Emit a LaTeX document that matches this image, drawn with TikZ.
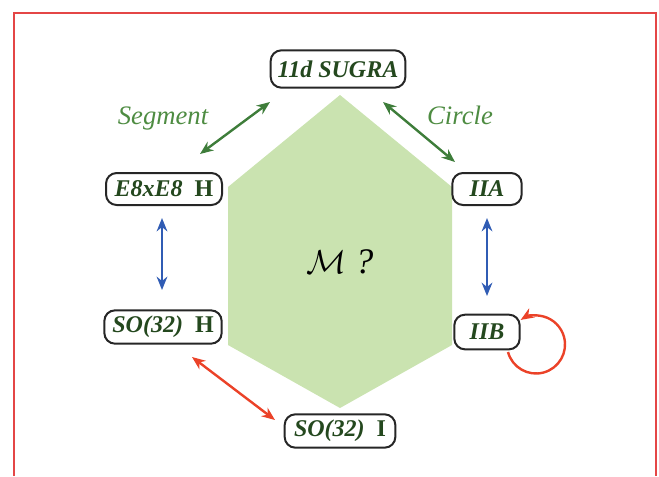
\documentclass[tikz,border=0pt]{standalone}
\usepackage{fontspec}
\setmainfont{Liberation Serif}
\usetikzlibrary{arrows.meta}
\definecolor{bordred}{RGB}{228,70,70}
\definecolor{hexgreen}{RGB}{202,227,176}
\definecolor{txtgreen}{RGB}{36,72,30}
\definecolor{arrgreen}{RGB}{62,125,58}
\definecolor{lblgreen}{RGB}{78,140,66}
\definecolor{arrblue}{RGB}{48,92,180}
\definecolor{arrred}{RGB}{235,66,40}
\tikzset{
  theory/.style={draw=black!85, line width=1.5pt, rounded corners=8pt, fill=white,
    font=\fontsize{18}{20}\selectfont\bfseries\itshape, text=txtgreen,
    inner xsep=4pt, inner ysep=3pt},
  tip/.style={Stealth[length=10pt,width=8pt]},
  conn/.style={line width=1.8pt, {Stealth[length=10pt,width=8pt]}-{Stealth[length=10pt,width=8pt]}},
  lbl/.style={font=\fontsize{20}{22}\selectfont\itshape, text=lblgreen}
}
\begin{document}
\begin{tikzpicture}[x=0.75pt,y=-0.75pt]
\useasboundingbox (0,0) rectangle (659,476);
\draw[bordred, line width=1pt] (14,476) -- (14,13) -- (656,13) -- (656,476);
% hexagon
\fill[hexgreen] (340,95) -- (452,187) -- (452,345) -- (340,408) -- (228,345) -- (228,187) -- cycle;
\node[font=\fontsize{27}{29}\selectfont] (M) at (340,262) {$\mathcal{M}$ \textit{?}};
% nodes
\node[theory, minimum width=101pt, minimum height=28pt] (sugra) at (338,69) {11\textit{d} SUGRA};
\node[theory, minimum width=87pt, minimum height=24pt] (e8) at (164,189) {E8xE8\ \ \textup{H}};
\node[theory, minimum width=52pt, minimum height=24pt] (iia) at (487,189) {IIA};
\node[theory, minimum width=88pt, minimum height=25pt] (so32h) at (163,327) {SO(32)\ \ \textup{H}};
\node[theory, minimum width=49pt, minimum height=26pt] (iib) at (487,332) {IIB};
\node[theory, minimum width=83pt, minimum height=25pt] (so32i) at (340,431) {SO(32)\ \ \textup{I}};
% labels
\node[lbl] (seg) at (163,119) {Segment};
\node[lbl] (circ) at (460,115) {Circle};
% connectors
\draw[conn, arrgreen] ([shift={(-68,33)}]sugra.center) -- ([shift={(36,-35)}]e8.center);
\draw[conn, arrgreen] ([shift={(45,33)}]sugra.center) -- ([shift={(-32,-27)}]iia.center);
\draw[conn, arrblue] ([shift={(-2,29)}]e8.center) -- ([shift={(-1,-37)}]so32h.center);
\draw[conn, arrblue] ([shift={(0,29)}]iia.center) -- ([shift={(0,-36)}]iib.center);
\draw[conn, arrred] ([shift={(29,30)}]so32h.center) -- ([shift={(-65,-11)}]so32i.center);
\draw[arrred, line width=1.8pt, -{Stealth[length=10pt,width=8pt]}]
  ([shift={(21,20)}]iib.center) arc[start angle=195, end angle=482, radius=21.75pt];
\end{tikzpicture}
\end{document}
